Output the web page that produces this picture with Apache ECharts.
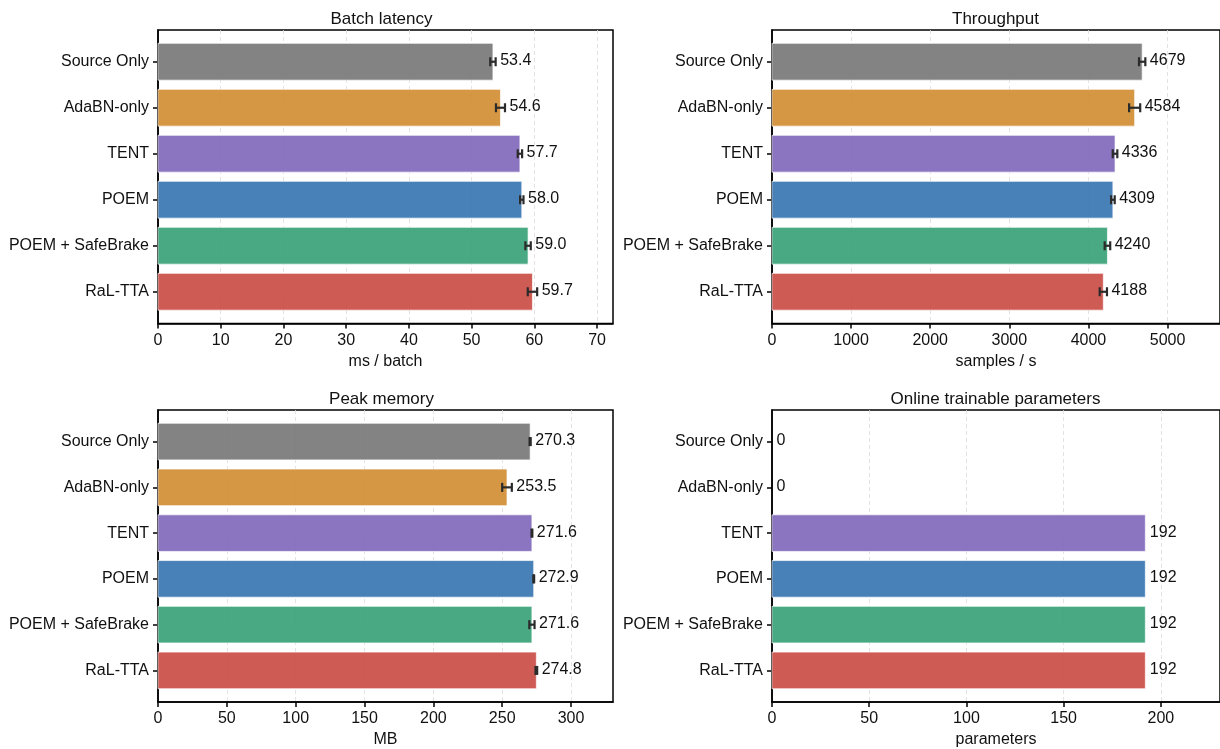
<!DOCTYPE html>
<html><head><meta charset="utf-8">
<script src="https://cdn.jsdelivr.net/npm/echarts@6/dist/echarts.min.js"></script>
<style>html,body{margin:0;padding:0;background:#fff}#c{width:1220px;height:749px}</style>
</head><body><div id="c"></div>
<script>
const categories = ['Source Only', 'AdaBN-only', 'TENT', 'POEM', 'POEM + SafeBrake', 'RaL-TTA'];
const colors = ['#757575', '#D08C30', '#7E66BA', '#3373B0', '#34A076', '#CA4943'];

const latency = [53.4, 54.6, 57.7, 58.0, 59.0, 59.7];
const latencyErr = [0.43, 0.72, 0.35, 0.27, 0.43, 0.75];
const throughput = [4679, 4584, 4336, 4309, 4240, 4188];
const throughputErr = [40, 70, 29, 23, 35, 46];
const memory = [270.3, 253.5, 271.6, 272.9, 271.6, 274.8];
const memoryErr = [0.4, 3.5, 0.3, 0.3, 1.9, 0.6];
const params = [0, 0, 192, 192, 192, 192];
const paramsErr = [0, 0, 0, 0, 0, 0];

const titles = ['Batch latency', 'Throughput', 'Peak memory', 'Online trainable parameters'];
const units = ['ms / batch', 'samples / s', 'MB', 'parameters'];
const intervals = [10, 1000, 50, 50];

const FONT = '"Liberation Sans", Arial, Helvetica, sans-serif';
const FS = 16;
const GW = 455, GH = 293.5;
const panels = [
  {values: latency, errs: latencyErr, fmt: v => v.toFixed(1), left: 158, top: 30},
  {values: throughput, errs: throughputErr, fmt: v => String(Math.round(v)), left: 772, top: 30},
  {values: memory, errs: memoryErr, fmt: v => v.toFixed(1), left: 158, top: 410},
  {values: params, errs: paramsErr, fmt: v => String(Math.round(v)), left: 772, top: 410}
];

function makeRender(p) {
  return function (params, api) {
    const v = api.value(0), i = api.value(1), e = api.value(2);
    const s = api.coord([0, i]);
    const t = api.coord([v, i]);
    const h = api.size([0, 0.8])[1];
    const ch = [];
    if (v > 0) {
      ch.push({type: 'rect', shape: {x: s[0], y: s[1] - h / 2, width: t[0] - s[0], height: h},
        style: {fill: colors[i], opacity: 0.9, stroke: 'rgba(255,255,255,0.75)', lineWidth: 1}});
    }
    let lx = t[0];
    if (e > 0) {
      const a = api.coord([v - e, i]), b = api.coord([v + e, i]);
      const cap = 4.5;
      const st = {stroke: '#2b2b2b', lineWidth: 2.2};
      ch.push({type: 'line', shape: {x1: a[0], y1: a[1], x2: b[0], y2: b[1]}, style: st});
      ch.push({type: 'line', shape: {x1: a[0], y1: a[1] - cap, x2: a[0], y2: a[1] + cap}, style: st});
      ch.push({type: 'line', shape: {x1: b[0], y1: b[1] - cap, x2: b[0], y2: b[1] + cap}, style: st});
      lx = b[0];
    }
    ch.push({type: 'text', x: lx + 4.5, y: t[1] - 1,
      style: {text: p.fmt(v), fill: '#111', font: FS + 'px ' + FONT, align: 'left', verticalAlign: 'middle'}});
    return {type: 'group', children: ch};
  };
}

const option = {
  animation: false,
  backgroundColor: '#fff',
  title: panels.map((p, k) => ({
    text: titles[k], left: p.left + GW / 2 - 9, top: p.top - 24, textAlign: 'center',
    textStyle: {fontFamily: FONT, fontSize: 17, fontWeight: 'normal', color: '#111'}
  })),
  grid: panels.map(p => ({left: p.left, top: p.top, width: GW, height: GH, show: true,
    borderColor: '#000', borderWidth: 1.5, backgroundColor: 'transparent', containLabel: false})),
  xAxis: panels.map((p, k) => {
    const m = Math.max(...p.values.map((v, i) => v + p.errs[i])) * 1.2;
    return {
      type: 'value', gridIndex: k, min: 0, max: m, interval: intervals[k],
      name: units[k], nameLocation: 'middle', nameGap: 30,
      nameTextStyle: {fontFamily: FONT, fontSize: FS, color: '#111'},
      axisLine: {show: true, onZero: false, lineStyle: {color: '#000', width: 1.5}},
      axisTick: {show: true, inside: false, length: 5, lineStyle: {color: '#000', width: 1.5}},
      axisLabel: {fontFamily: FONT, fontSize: FS, color: '#111', margin: 9, showMaxLabel: false,
        formatter: v => String(v)},
      splitLine: {show: true, showMinLine: false, showMaxLine: false,
        lineStyle: {color: '#dcdcdc', width: 0.8, type: [4, 3]}}
    };
  }),
  yAxis: panels.map((p, k) => ({
    type: 'value', gridIndex: k, min: -0.69, max: 5.69, inverse: true,
    axisLine: {show: true, onZero: false, lineStyle: {color: '#000', width: 1.5}},
    axisTick: {show: true, length: 5, lineStyle: {color: '#000', width: 1.5}, customValues: [0, 1, 2, 3, 4, 5]},
    axisLabel: {fontFamily: FONT, fontSize: FS, color: '#111', margin: 9,
      customValues: [0, 1, 2, 3, 4, 5], formatter: v => categories[Math.round(v)]},
    splitLine: {show: false}
  })),
  series: panels.map((p, k) => ({
    type: 'custom', xAxisIndex: k, yAxisIndex: k,
    renderItem: makeRender(p),
    encode: {x: 0, y: 1},
    data: p.values.map((v, i) => [v, i, p.errs[i]]),
    z: 3
  }))
};

const chart = echarts.init(document.getElementById('c'), null, {renderer: 'canvas'});
chart.setOption(option);
</script>
</body></html>
